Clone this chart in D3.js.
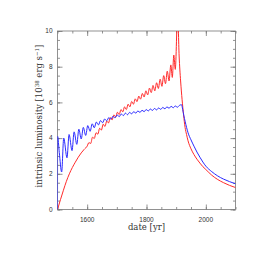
<!DOCTYPE html>
<html>
<head>
<meta charset="utf-8">
<script src="https://cdn.jsdelivr.net/npm/d3@7"></script>
<style>
  body { margin: 0; background: #fff; }
  svg { display: block; }
</style>
</head>
<body>
<script>
// luminosity curves, [year, 10^38 erg/s]
var redYears = [1500,1510,1520,1530,1540,1550,1560,1570,1580,1590,1600,
  1606,1612,1618,1624,1630,1636,1642,1648,1654,1660,1666,1672,1678,1684,1690,1696,
  1702,1708,1714,1720,1726,1732,1738,1744,1750,1756,1762,1768,1774,1780,1786,1792,
  1798,1804,1810,1816,1822,1828,1834,1840,1846,1852,1858,1864,1870,1876,1882,1887,
  1892,1897,1905,1910,1915,1920,1925,1930,1935,1940,1950,1960,1970,1980,1990,2000,
  2020,2040,2060,2080,2100];
var redLum = [0,0.55,1.08,1.58,2.0,2.35,2.65,2.93,3.17,3.37,3.55,
  3.75,3.7,4.05,3.98,4.3,4.22,4.55,4.45,4.78,4.65,4.95,4.85,5.15,5.02,5.3,5.18,
  5.45,5.32,5.6,5.47,5.75,5.6,5.9,5.75,6.05,5.9,6.2,6.04,6.35,6.18,6.5,6.3,
  6.65,6.42,6.8,6.55,6.95,6.65,7.1,6.78,7.3,6.9,7.5,7.05,7.75,7.2,8.1,7.4,
  8.65,7.85,11.0,8.6,7.2,6.15,5.3,4.6,4.2,3.85,3.4,3.08,2.82,2.6,2.4,2.24,
  1.92,1.68,1.5,1.35,1.23];

var blueYears = [1500,1500.3,1506,1514,1521,1532,1539,1549,1556,1565,1572,1580,1587,
  1595,1602,1610,1617,1624,1631,1638,1645,1652,1659,1666,1673,1680,1687,1694,1701,
  1708,1715,1722,1729,1736,1743,1750,1757,1764,1771,1778,1785,1792,1799,1806,1813,
  1820,1827,1834,1841,1848,1855,1862,1869,1876,1883,1890,1897,1904,1911,1918,1922,
  1926,1930,1935,1940,1950,1960,1970,1980,1990,2000,2020,2040,2060,2080,2100];
var blueLum = [0,4.1,3.2,2.1,4.0,2.9,4.2,3.3,4.35,3.65,4.5,3.95,4.6,
  4.15,4.7,4.38,4.8,4.58,4.9,4.74,4.98,4.86,5.07,4.97,5.15,5.06,5.22,5.13,5.3,
  5.2,5.35,5.26,5.4,5.31,5.44,5.36,5.48,5.4,5.52,5.44,5.56,5.48,5.6,5.52,5.63,
  5.55,5.66,5.58,5.69,5.61,5.72,5.64,5.75,5.67,5.78,5.7,5.8,5.73,5.83,5.87,5.6,
  5.25,4.95,4.6,4.3,3.9,3.55,3.22,2.93,2.66,2.43,2.12,1.88,1.7,1.56,1.44];

var yTickLabels = [0,2,4,6,8,10];
var xTickLabels = [1600,1800,2000];

var W = 266, H = 266;
var margin = {top: 31, right: 30.5, bottom: 56.5, left: 57.5},
    width = W - margin.left - margin.right,
    height = H - margin.top - margin.bottom;

var svg = d3.select("body")
  .append("svg")
    .attr("width", W)
    .attr("height", H);

var g = svg.append("g")
  .attr("transform", "translate(" + margin.left + "," + margin.top + ")");

var x = d3.scaleLinear().domain([1500, 2100]).range([0, width]);
var y = d3.scaleLinear().domain([0, 10]).range([height, 0]);

g.append("clipPath").attr("id", "clip")
  .append("rect").attr("width", width).attr("height", height);

var frameColor = "#777";

function ticks(axis, vals, len) {
  return axis.tickValues(vals).tickSizeInner(-len).tickSizeOuter(0).tickFormat("");
}

// minor + major ticks on all four sides, pointing inward
var xMinor = d3.range(1500, 2101, 50), yMinor = d3.range(0, 10.01, 0.5);
var axes = [
  [d3.axisBottom(x), "translate(0," + height + ")", xMinor, xTickLabels],
  [d3.axisTop(x), null, xMinor, xTickLabels],
  [d3.axisLeft(y), null, yMinor, yTickLabels],
  [d3.axisRight(y), "translate(" + width + ",0)", yMinor, yTickLabels]
];
axes.forEach(function(a) {
  [[a[2], 2.5], [a[3], 5]].forEach(function(t) {
    var ag = g.append("g").call(ticks(a[0], t[0], t[1]));
    if (a[1]) ag.attr("transform", a[1]);
    ag.select(".domain").remove();
    ag.selectAll("line").attr("stroke", frameColor).attr("stroke-width", 0.8);
  });
});

g.append("rect")
  .attr("width", width).attr("height", height)
  .attr("fill", "none").attr("stroke", frameColor).attr("stroke-width", 0.8);

// tick labels
g.selectAll(".xl").data(xTickLabels).enter().append("text")
  .attr("x", d => x(d)).attr("y", height + 12)
  .attr("text-anchor", "middle")
  .attr("font-family", "Liberation Sans, Arial, sans-serif")
  .attr("font-size", 6.5).attr("fill", "#333")
  .text(d => d);

g.selectAll(".yl").data(yTickLabels).enter().append("text")
  .attr("x", -5).attr("y", d => y(d) + 2.3)
  .attr("text-anchor", "end")
  .attr("font-family", "Liberation Sans, Arial, sans-serif")
  .attr("font-size", 6.5).attr("fill", "#333")
  .text(d => d);

// axis titles
svg.append("text")
  .attr("x", margin.left + width / 2).attr("y", 230)
  .attr("text-anchor", "middle")
  .attr("font-family", "DejaVu Serif, serif")
  .attr("font-size", 8.5).attr("fill", "#333")
  .text("date [yr]");

var yt = svg.append("text")
  .attr("transform", "translate(42," + 116 + ") rotate(-90)")
  .attr("text-anchor", "middle")
  .attr("font-family", "DejaVu Serif, serif")
  .attr("font-size", 8.5).attr("fill", "#333");
yt.append("tspan").text("intrinsic luminosity [10");
yt.append("tspan").attr("font-size", 5.5).attr("dy", -3).text("38");
yt.append("tspan").attr("dy", 3).text(" erg s");
yt.append("tspan").attr("font-size", 5.5).attr("dy", -3).text("\u22121");
yt.append("tspan").attr("dy", 3).text("]");

var line = d3.line().x(d => x(d[0])).y(d => y(d[1])).curve(d3.curveMonotoneX);

var curves = [
  [d3.zip(redYears, redLum), "#ff2a2a"],
  [d3.zip(blueYears, blueLum), "#2a2aff"]
];
curves.forEach(function(c) {
  g.append("path")
    .datum(c[0])
    .attr("clip-path", "url(#clip)")
    .attr("fill", "none")
    .attr("stroke", c[1])
    .attr("stroke-width", 1)
    .attr("d", line);
});
</script>
</body>
</html>
